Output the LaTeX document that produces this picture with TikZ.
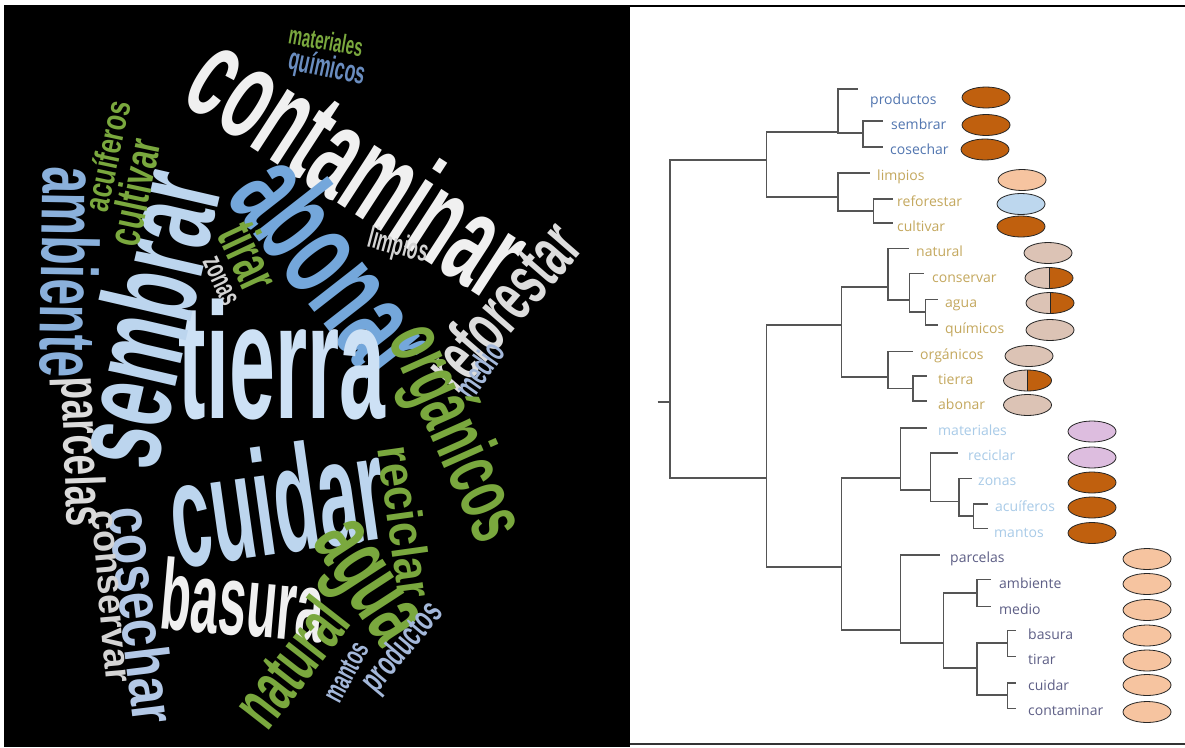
\documentclass[tikz,border=0pt]{standalone}
\usepackage{fontspec}
\setmainfont{Open Sans}
\newfontfamily\cloudfont{Liberation Sans}
\usetikzlibrary{shapes.geometric}

% word cloud colours
\definecolor{cwhite}{HTML}{F0F0F0}
\definecolor{cgray}{HTML}{D4D4D4}
\definecolor{cgreen}{HTML}{7AA83E}
\definecolor{cblue}{HTML}{74A7DB}
\definecolor{cqblue}{HTML}{6A8DC0}
\definecolor{cpale}{HTML}{CDE1F5}
\definecolor{cpaletwo}{HTML}{BCD5EE}
\definecolor{camb}{HTML}{8AB0DB}
\definecolor{csteel}{HTML}{A4B8DA}
\definecolor{ccos}{HTML}{B3C8E6}
% dendrogram colours
\definecolor{lblue}{HTML}{5276B0}
\definecolor{ltan}{HTML}{C4A85E}
\definecolor{lsky}{HTML}{A9CBE8}
\definecolor{lslate}{HTML}{5E5F86}
\definecolor{branch}{HTML}{555555}
\definecolor{mbrown}{HTML}{C0600E}
\definecolor{mbeige}{HTML}{DCC3B5}
\definecolor{mpeach}{HTML}{F6C4A0}
\definecolor{mice}{HTML}{BDD7EE}
\definecolor{mlav}{HTML}{DDBDDF}

% bold cloud face at a given size
\newcommand\cfs[1]{\cloudfont\bfseries\fontsize{#1}{#1}\selectfont}
% horizontally squeezed word
\newcommand\sq[2]{\scalebox{#1}[1]{#2}}

\tikzset{
  cw/.style={inner sep=0pt, outer sep=0pt},
  leaf/.style={anchor=base west, inner sep=0pt, font=\fontsize{14}{14}\selectfont},
  br/.style={draw=branch, line width=1.3pt},
  tag/.style={ellipse, draw=black!85, line width=0.8pt, minimum width=48pt, minimum height=21pt, inner sep=0pt},
  split/.style={tag, fill=mbeige, path picture={
      \fill[mbrown] (path picture bounding box.north) rectangle (path picture bounding box.south east);
      \draw[black!85, line width=0.8pt] (path picture bounding box.north) -- (path picture bounding box.south);}}
}

\begin{document}
\begin{tikzpicture}[x=1pt,y=-1pt]
\fill[white] (0,0) rectangle (1185,747);
\useasboundingbox (0,0) rectangle (1185,747);

% ---------- word cloud ----------
\fill[black] (4,5) rectangle (630,747);

\node[cw, text=cgreen, rotate=-10, font=\cfs{26}] (wmat) at (326,41) {\sq{0.58}{materiales}};
\node[cw, text=cqblue, rotate=-12, font=\cfs{31}] (wqui) at (327,69) {\sq{0.57}{químicos}};
\node[cw, text=cwhite, rotate=-33, font=\cfs{130}] (wcon) at (360,163) {\sq{0.53}{contaminar}};
\node[cw, text=cblue, rotate=-52, font=\cfs{130}] (wabo) at (337,266) {\sq{0.56}{abonar}};
\node[cw, text=cgray, rotate=-15, font=\cfs{30}] (wlim) at (398,247) {\sq{0.58}{limpios}};
\node[cw, text=cgray!80!white, rotate=49, font=\cfs{72}] (wref) at (502,305) {\sq{0.58}{reforestar}};
\node[cw, text=csteel, rotate=55, font=\cfs{35}] (wmed) at (479,370) {\sq{0.58}{medio}};
\node[cw, text=cgreen, rotate=-66, font=\cfs{82}] (worg) at (453,434) {\sq{0.58}{orgánicos}};
\node[cw, text=cgreen, rotate=-65, font=\cfs{58}] (wtir) at (250,256) {\sq{0.6}{tirar}};
\node[cw, text=cgray, rotate=-65, font=\cfs{30}] (wzon) at (220,281) {\sq{0.6}{zonas}};
\node[cw, text=cpale, rotate=0, font=\cfs{165}] (wtie) at (282,360) {\sq{0.5}{tierra}};
\node[cw, text=cpaletwo, rotate=8, font=\cfs{150}] (wcui) at (277,500) {\sq{0.48}{cuidar}};
\node[cw, text=cwhite, rotate=-5, font=\cfs{100}] (wbas) at (243,600) {\sq{0.5}{basura}};
\node[cw, text=cgreen, rotate=-57, font=\cfs{95}] (wagu) at (360,587) {\sq{0.58}{agua}};
\node[cw, text=cgreen, rotate=-82, font=\cfs{50}] (wrec) at (406,522) {\sq{0.86}{reciclar}};
\node[cw, text=cgreen, rotate=52, font=\cfs{72}] (wnat) at (290,662) {\sq{0.58}{natural}};
\node[cw, text=csteel, rotate=62, font=\cfs{30}] (wman) at (346,672) {\sq{0.6}{mantos}};
\node[cw, text=csteel, rotate=50, font=\cfs{36}] (wpro) at (403,648) {\sq{0.6}{productos}};
\node[cw, text=ccos, rotate=-83, font=\cfs{62}] (wcos) at (143,615) {\sq{0.8}{cosechar}};
\node[cw, text=cgray, rotate=-85, font=\cfs{38}] (wcsv) at (109,597) {\sq{0.95}{conservar}};
\node[cw, text=cgray!85!white, rotate=-88, font=\cfs{56}] (wpar) at (79,452) {\sq{0.66}{parcelas}};
\node[cw, text=camb, rotate=-91, font=\cfs{80}] (wamb) at (70,272) {\sq{0.6}{ambiente}};
\node[cw, text=cpaletwo, rotate=77, font=\cfs{130}] (wsem) at (144,318) {\sq{0.58}{sembrar}};
\node[cw, text=cgreen, rotate=78, font=\cfs{46}] (wcul) at (134,192) {\sq{0.66}{cultivar}};
\node[cw, text=cgreen, rotate=78, font=\cfs{35}] (wacu) at (107,156) {\sq{0.72}{acuíferos}};

% ---------- dendrogram panel ----------
\draw[black, line width=2pt] (630,6) -- (1185,6);
\draw[black!80, line width=1.5pt] (630,744) -- (1185,744);

% leaf labels
\node[leaf, text=lblue] (tproductos) at (870,104) {productos};
\node[leaf, text=lblue] (tsembrar) at (891,129.5) {sembrar};
\node[leaf, text=lblue] (tcosechar) at (890,154.5) {cosechar};
\node[leaf, text=ltan] (tlimpios) at (877,180.5) {limpios};
\node[leaf, text=ltan] (treforestar) at (897,206) {reforestar};
\node[leaf, text=ltan] (tcultivar) at (897,231) {cultivar};
\node[leaf, text=ltan] (tnatural) at (916,256.5) {natural};
\node[leaf, text=ltan] (tconservar) at (932,282) {conservar};
\node[leaf, text=ltan] (tagua) at (945,307) {agua};
\node[leaf, text=ltan] (tquimicos) at (945,333) {químicos};
\node[leaf, text=ltan] (torganicos) at (920,359) {orgánicos};
\node[leaf, text=ltan] (ttierra) at (938,384) {tierra};
\node[leaf, text=ltan] (tabonar) at (938,409) {abonar};
\node[leaf, text=lsky] (tmateriales) at (938,435.5) {materiales};
\node[leaf, text=lsky] (treciclar) at (968,460.7) {reciclar};
\node[leaf, text=lsky] (tzonas) at (978,485.7) {zonas};
\node[leaf, text=lsky] (tacuiferos) at (995,511.3) {acuíferos};
\node[leaf, text=lsky] (tmantos) at (994,537) {mantos};
\node[leaf, text=lslate] (tparcelas) at (950,562.3) {parcelas};
\node[leaf, text=lslate] (tambiente) at (999,588) {ambiente};
\node[leaf, text=lslate] (tmedio) at (999,614) {medio};
\node[leaf, text=lslate] (tbasura) at (1028,639) {basura};
\node[leaf, text=lslate] (ttirar) at (1028,664.7) {tirar};
\node[leaf, text=lslate] (tcuidar) at (1028,690) {cuidar};
\node[leaf, text=lslate] (tcontaminar) at (1028,715.7) {contaminar};

% leaf line ends
\coordinate (eproductos) at (857.5,89);
\coordinate (esembrar) at (882.5,121);
\coordinate (ecosechar) at (882.5,147);
\coordinate (elimpios) at (870,173);
\coordinate (ereforestar) at (893,199);
\coordinate (ecultivar) at (893,223);
\coordinate (enatural) at (909,248.5);
\coordinate (econservar) at (923.6,273.5);
\coordinate (eagua) at (937.9,299.5);
\coordinate (equimicos) at (937.9,325);
\coordinate (eorganicos) at (912.9,351.5);
\coordinate (etierra) at (927,376);
\coordinate (eabonar) at (927,401);
\coordinate (emateriales) at (927,428);
\coordinate (ereciclar) at (957.5,453);
\coordinate (ezonas) at (971.8,478.5);
\coordinate (eacuiferos) at (987.9,504);
\coordinate (emantos) at (987.9,528.5);
\coordinate (eparcelas) at (939.6,555);
\coordinate (eambiente) at (991.4,579.5);
\coordinate (emedio) at (991.4,606.5);
\coordinate (ebasura) at (1016.4,630.5);
\coordinate (etirar) at (1016.4,656.5);
\coordinate (ecuidar) at (1016.4,683);
\coordinate (econtaminar) at (1016.4,708.5);

% internal nodes of the tree
\coordinate (stub) at (657.5,402);
\coordinate (R) at (670,402);
\coordinate (A) at (766.4,160);
\coordinate (P) at (837.9,132);
\coordinate (SC) at (862.9,133);
\coordinate (L) at (837.9,197);
\coordinate (RC) at (873.6,211);
\coordinate (B) at (766.4,478);
\coordinate (C) at (841.4,325);
\coordinate (N) at (887.9,287);
\coordinate (N2) at (909.3,300);
\coordinate (N3) at (925.4,312);
\coordinate (O) at (887.9,377);
\coordinate (O2) at (912.9,388.5);
\coordinate (D) at (841.4,567);
\coordinate (M) at (900.4,478);
\coordinate (M2) at (930.7,490);
\coordinate (M3) at (959,501.7);
\coordinate (M4) at (973.6,516);
\coordinate (Q) at (900.4,630);
\coordinate (Q2) at (943.2,643);
\coordinate (Q21) at (977,593);
\coordinate (Q22) at (977,668);
\coordinate (Q221) at (1007.5,643);
\coordinate (Q222) at (1007.5,695);

% branches
\draw[br] (stub) -- (R);
\draw[br] (R) |- (A);  \draw[br] (R) |- (B);
\draw[br] (A) |- (P);  \draw[br] (A) |- (L);
\draw[br] (P) |- (eproductos);  \draw[br] (P) |- (SC);
\draw[br] (SC) |- (esembrar);  \draw[br] (SC) |- (ecosechar);
\draw[br] (L) |- (elimpios);  \draw[br] (L) |- (RC);
\draw[br] (RC) |- (ereforestar);  \draw[br] (RC) |- (ecultivar);
\draw[br] (B) |- (C);  \draw[br] (B) |- (D);
\draw[br] (C) |- (N);  \draw[br] (C) |- (O);
\draw[br] (N) |- (enatural);  \draw[br] (N) |- (N2);
\draw[br] (N2) |- (econservar);  \draw[br] (N2) |- (N3);
\draw[br] (N3) |- (eagua);  \draw[br] (N3) |- (equimicos);
\draw[br] (O) |- (eorganicos);  \draw[br] (O) |- (O2);
\draw[br] (O2) |- (etierra);  \draw[br] (O2) |- (eabonar);
\draw[br] (D) |- (M);  \draw[br] (D) |- (Q);
\draw[br] (M) |- (emateriales);  \draw[br] (M) |- (M2);
\draw[br] (M2) |- (ereciclar);  \draw[br] (M2) |- (M3);
\draw[br] (M3) |- (ezonas);  \draw[br] (M3) |- (M4);
\draw[br] (M4) |- (eacuiferos);  \draw[br] (M4) |- (emantos);
\draw[br] (Q) |- (eparcelas);  \draw[br] (Q) |- (Q2);
\draw[br] (Q2) |- (Q21);  \draw[br] (Q2) |- (Q22);
\draw[br] (Q21) |- (eambiente);  \draw[br] (Q21) |- (emedio);
\draw[br] (Q22) |- (Q221);  \draw[br] (Q22) |- (Q222);
\draw[br] (Q221) |- (ebasura);  \draw[br] (Q221) |- (etirar);
\draw[br] (Q222) |- (ecuidar);  \draw[br] (Q222) |- (econtaminar);

% category markers
\node[tag, fill=mbrown] (mproductos) at (986,97.5) {};
\node[tag, fill=mbrown] (msembrar) at (986,125) {};
\node[tag, fill=mbrown] (mcosechar) at (985,149.5) {};
\node[tag, fill=mpeach] (mlimpios) at (1022,180) {};
\node[tag, fill=mice] (mreforestar) at (1021,204) {};
\node[tag, fill=mbrown] (mcultivar) at (1021,226.5) {};
\node[tag, fill=mbeige] (mnatural) at (1048,253) {};
\node[split] (mconservar) at (1049,278) {};
\node[split] (magua) at (1050,303) {};
\node[tag, fill=mbeige] (mquimicos) at (1050,330) {};
\node[tag, fill=mbeige] (morganicos) at (1029,356) {};
\node[split] (mtierra) at (1027.5,380.5) {};
\node[tag, fill=mbeige] (mabonar) at (1027.5,405) {};
\node[tag, fill=mlav] (mmateriales) at (1092,431.5) {};
\node[tag, fill=mlav] (mreciclar) at (1092,457.5) {};
\node[tag, fill=mbrown] (mzonas) at (1092,482.5) {};
\node[tag, fill=mbrown] (macuiferos) at (1092,507.5) {};
\node[tag, fill=mbrown] (mmantos) at (1092,533) {};
\node[tag, fill=mpeach] (mparcelas) at (1147,559) {};
\node[tag, fill=mpeach] (mambiente) at (1147,584) {};
\node[tag, fill=mpeach] (mmedio) at (1147,610) {};
\node[tag, fill=mpeach] (mbasura) at (1147,635.5) {};
\node[tag, fill=mpeach] (mtirar) at (1147,660.5) {};
\node[tag, fill=mpeach] (mcuidar) at (1147,685) {};
\node[tag, fill=mpeach] (mcontaminar) at (1147,712) {};
\end{tikzpicture}
\end{document}
